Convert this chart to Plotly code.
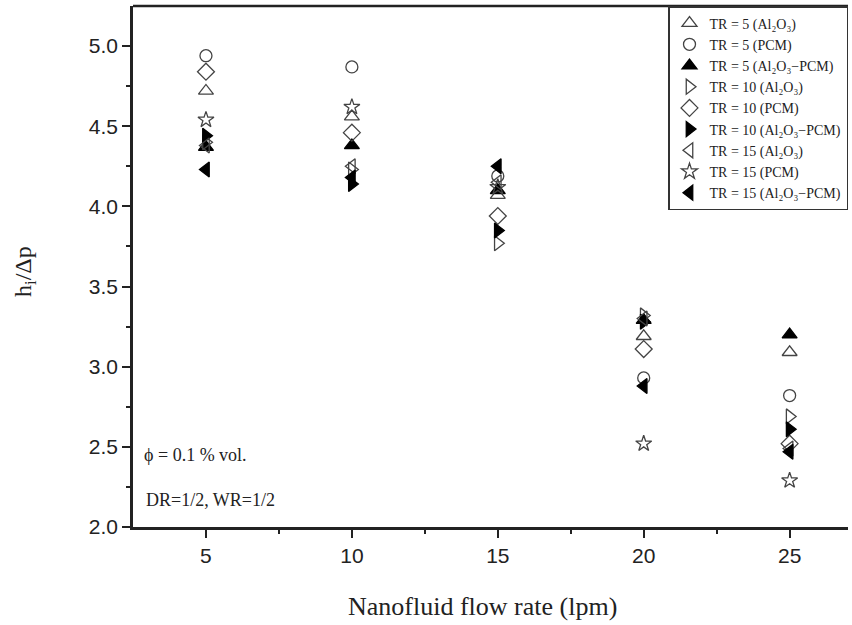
import plotly.graph_objects as go

flow_rate = [5, 10, 15, 20, 25]

series_names = [
    "TR = 5 (Al\u2082O\u2083)",
    "TR = 5 (PCM)",
    "TR = 5 (Al\u2082O\u2083\u2212PCM)",
    "TR = 10 (Al\u2082O\u2083)",
    "TR = 10 (PCM)",
    "TR = 10 (Al\u2082O\u2083\u2212PCM)",
    "TR = 15 (Al\u2082O\u2083)",
    "TR = 15 (PCM)",
    "TR = 15 (Al\u2082O\u2083\u2212PCM)",
]

tr5_al2o3 = [4.72, 4.56, 4.07, 3.19, 3.09]
tr5_pcm = [4.94, 4.87, 4.19, 2.93, 2.82]
tr5_hybrid = [4.37, 4.38, 4.10, 3.29, 3.20]
tr10_al2o3 = [4.40, 4.23, 3.77, 3.32, 2.69]
tr10_pcm = [4.84, 4.46, 3.94, 3.11, 2.52]
tr10_hybrid = [4.44, 4.14, 3.85, 3.28, 2.61]
tr15_al2o3 = [4.38, 4.25, 4.15, 3.30, 2.49]
tr15_pcm = [4.54, 4.62, 4.12, 2.52, 2.29]
tr15_hybrid = [4.23, 4.18, 4.25, 2.88, 2.47]

all_series = [tr5_al2o3, tr5_pcm, tr5_hybrid, tr10_al2o3, tr10_pcm,
              tr10_hybrid, tr15_al2o3, tr15_pcm, tr15_hybrid]

symbols = ["triangle-up-open", "circle-open", "triangle-up",
           "triangle-right-open", "diamond-open", "triangle-right",
           "triangle-left-open", "star-open", "triangle-left"]

INK = "#222222"
OPEN = "#444444"

fig = go.Figure()
for name, vals, sym in zip(series_names, all_series, symbols):
    filled = not sym.endswith("-open")
    size = 13
    if sym in ("star-open", "circle-open"):
        size = 12
    fig.add_trace(go.Scatter(
        x=flow_rate, y=vals, mode="markers", name=name,
        marker=dict(symbol=sym, size=size,
                    color="black" if filled else OPEN,
                    line=dict(width=1.3, color="black" if filled else OPEN)),
    ))

fig.update_layout(
    width=852, height=625,
    margin=dict(l=133, r=4, t=6, b=98),
    plot_bgcolor="white", paper_bgcolor="white",
    showlegend=True,
    legend=dict(x=1.0, y=1.0, xanchor="right", yanchor="top",
                bgcolor="white", bordercolor="#333333", borderwidth=1.5,
                font=dict(family="Liberation Serif", size=14, color=INK),
                tracegroupgap=0, itemwidth=30),
    font=dict(family="Liberation Sans", color=INK),
)

fig.update_xaxes(
    range=[2.5, 27], tickvals=flow_rate, ticktext=[str(v) for v in flow_rate],
    ticks="outside", ticklen=8, tickwidth=2, tickcolor=INK,
    minor=dict(tickvals=[7.5, 12.5, 17.5, 22.5], ticks="outside", ticklen=4,
               tickwidth=2, tickcolor=INK),
    showline=True, linewidth=2.5, linecolor=INK,
    showgrid=False, zeroline=False, automargin=False,
    tickfont=dict(family="Liberation Sans", size=21, color=INK),
)
fig.update_yaxes(
    range=[2.0, 5.25], tickvals=[2.0, 2.5, 3.0, 3.5, 4.0, 4.5, 5.0],
    tickformat=".1f",
    ticks="outside", ticklen=8, tickwidth=2, tickcolor=INK,
    minor=dict(tickvals=[2.25, 2.75, 3.25, 3.75, 4.25, 4.75], ticks="outside",
               ticklen=4, tickwidth=2, tickcolor=INK),
    showline=True, linewidth=2.5, linecolor=INK,
    showgrid=False, zeroline=False, automargin=False,
    tickfont=dict(family="Liberation Sans", size=21, color=INK),
)

# top border line
fig.add_shape(type="line", xref="paper", yref="paper", x0=0, x1=1, y0=1, y1=1,
              line=dict(color=INK, width=2.5))

# axis titles
fig.add_annotation(x=(482 - 133) / 715, y=-(606 - 527) / 521, xref="paper", yref="paper",
                   text="Nanofluid flow rate (lpm)", showarrow=False,
                   xanchor="center", yanchor="middle",
                   font=dict(family="Liberation Serif", size=26, color=INK))
fig.add_annotation(x=-(133 - 25) / 715, y=(527 - 272) / 521, xref="paper", yref="paper",
                   text="h<sub>i</sub>/\u0394p", showarrow=False, textangle=-90,
                   xanchor="center", yanchor="middle",
                   font=dict(family="Liberation Serif", size=24, color=INK))

fig.add_annotation(x=(142 - 133) / 715, y=(527 - 455) / 521, xref="paper", yref="paper",
                   xanchor="left", yanchor="middle",
                   text="\u03d5 = 0.1 % vol.", showarrow=False,
                   font=dict(family="Liberation Serif", size=18, color=INK))
fig.add_annotation(x=(144 - 133) / 715, y=(527 - 500) / 521, xref="paper", yref="paper",
                   xanchor="left", yanchor="middle",
                   text="DR=1/2, WR=1/2", showarrow=False,
                   font=dict(family="Liberation Serif", size=18, color=INK))

fig.write_html("out.html",
               config={"displayModeBar": False},
               post_script="document.body.style.margin='0';document.body.style.overflow='hidden';")
